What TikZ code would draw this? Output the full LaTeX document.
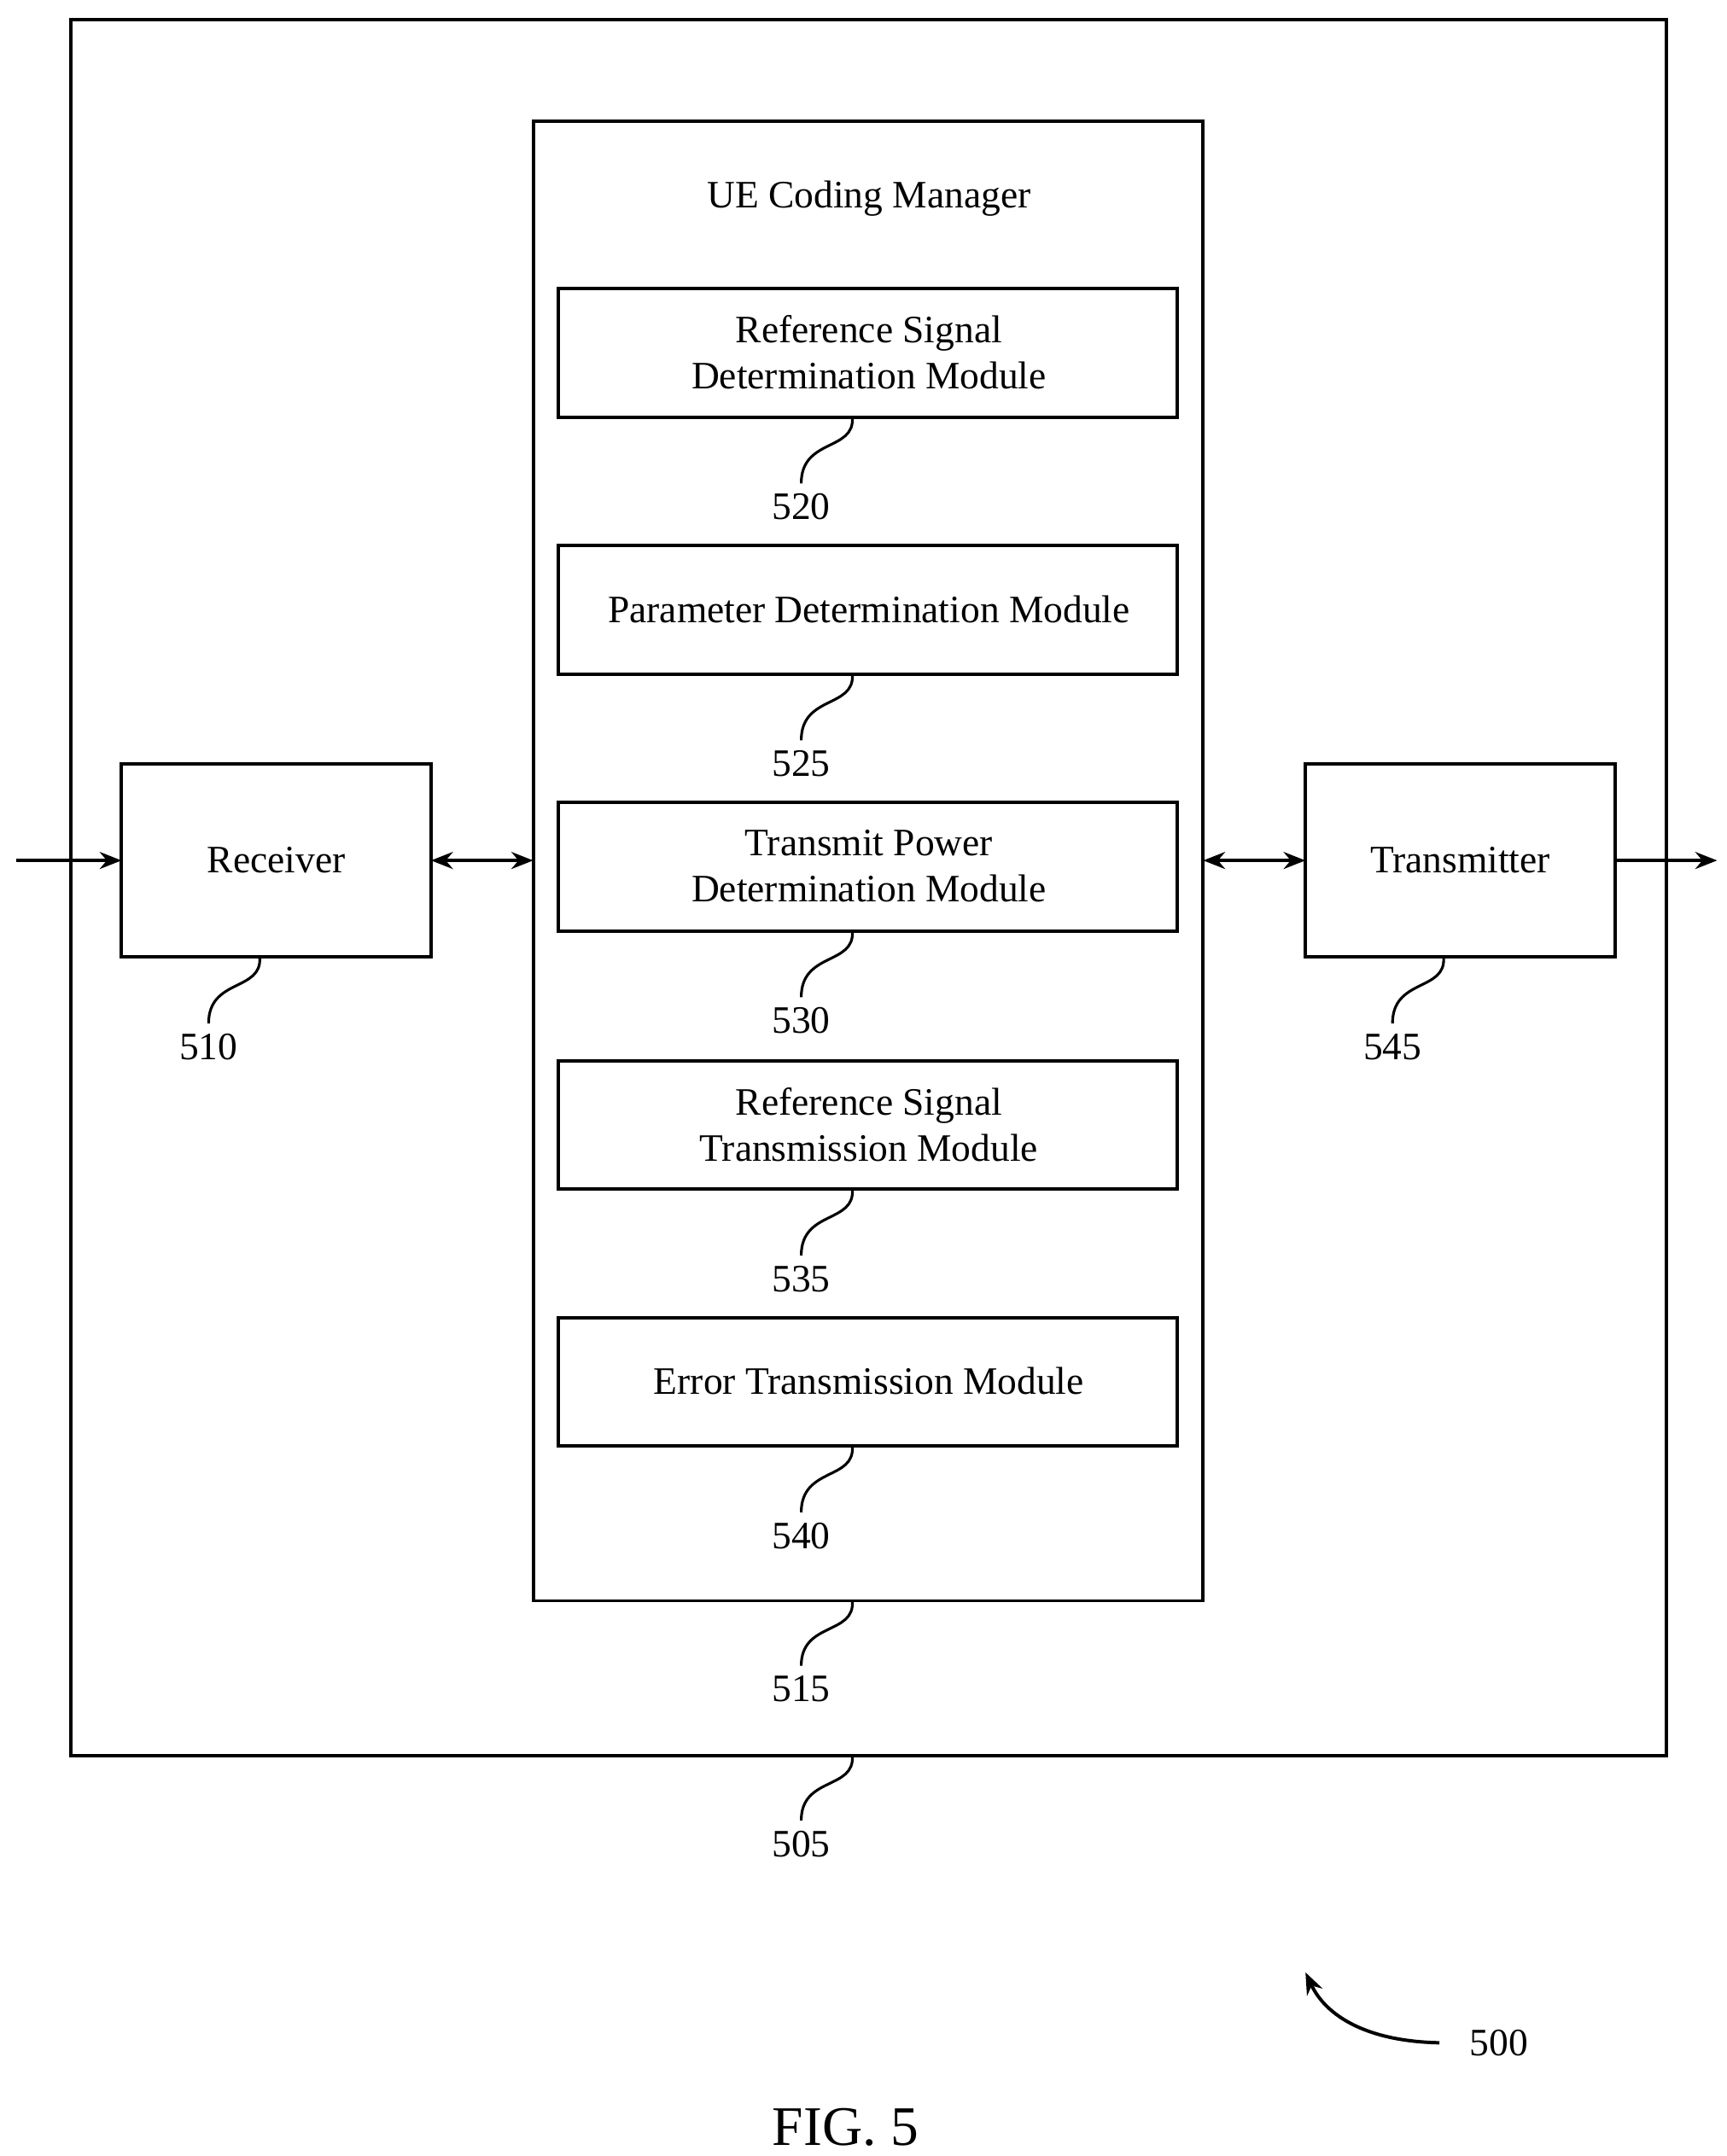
\documentclass[tikz,border=0pt]{standalone}
\usepackage{fontspec}
\setmainfont{Liberation Serif}
\usetikzlibrary{arrows.meta}
\begin{document}
\begin{tikzpicture}[x=0.02cm,y=-0.02cm,
  box/.style={draw,line width=1.4pt},
  txt/.style={font=\fontsize{16}{19}\selectfont,align=center},
  arr/.style={line width=1.4pt,-{Stealth[length=9pt,width=7pt]}},
  darr/.style={line width=1.4pt,{Stealth[length=9pt,width=7pt]}-{Stealth[length=9pt,width=7pt]}},
  sq/.style={line width=1.1pt}]
\useasboundingbox (0,0) rectangle (1250,1561);
\draw[box] (51,14) rectangle (1206,1271);
\draw[box] (386,88) rectangle (871,1159);
\node[txt] (t) at (629,144) {UE Coding Manager};
\foreach \n/\y/\t in {520/209/{Reference Signal\\Determination Module},525/395/{Parameter Determination Module},530/581/{Transmit Power\\Determination Module},535/768/{Reference Signal\\Transmission Module},540/954/{Error Transmission Module}}{
  \draw[box] (404,\y) rectangle (852,\y+93);
  \node[txt] (m\n) at (629,\y+46) {\t};
  \draw[sq] (617,\y+93) .. controls (619,\y+118) and (580,\y+108) .. (580,\y+141);
  \node[txt] (l\n) at (580,\y+158) {\n};
}
\draw[box] (88,553) rectangle (312,693);
\node[txt] (rx) at (200,623) {Receiver};
\draw[box] (945,553) rectangle (1169,693);
\node[txt] (tx) at (1057,623) {Transmitter};
\draw[sq] (188,693) .. controls (190,718) and (151,708) .. (151,741);
\node[txt] (l510) at (151,758) {510};
\draw[sq] (1045,693) .. controls (1047,718) and (1008,708) .. (1008,741);
\node[txt] (l545) at (1008,758) {545};
\draw[sq] (617,1159) .. controls (619,1184) and (580,1174) .. (580,1206);
\node[txt] (l515) at (580,1223) {515};
\draw[sq] (617,1271) .. controls (619,1296) and (580,1286) .. (580,1318);
\node[txt] (l505) at (580,1335) {505};
\coordinate (in) at (12,623);
\coordinate (out) at (1243,623);
\draw[arr] (in) -- (88,623);
\draw[darr] (312,623) -- (386,623);
\draw[darr] (871,623) -- (945,623);
\draw[arr] (1169,623) -- (out);
\node[txt] (l500) at (1085,1479) {500};
\draw[arr] (1042,1479) .. controls (990,1478) and (960,1460) .. (945,1428);
\node[font=\fontsize{23}{27}\selectfont] (fig) at (612,1540) {FIG. 5};
\end{tikzpicture}
\end{document}
